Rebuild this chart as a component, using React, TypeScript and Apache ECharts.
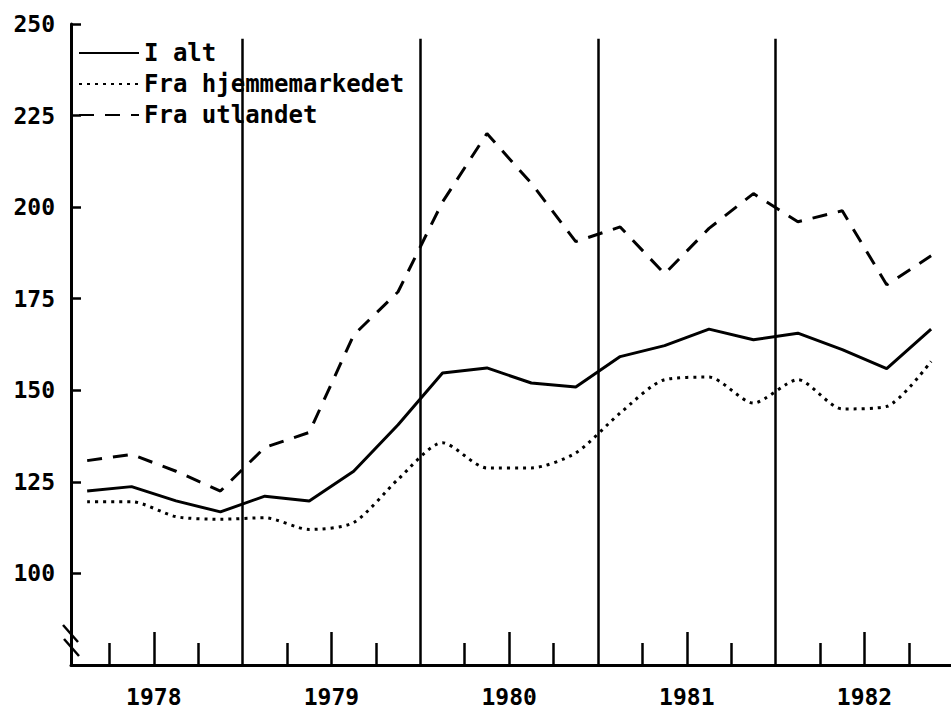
import React, { useEffect, useRef } from "react";
import * as echarts from "echarts";

const yearLabels = ["1978", "1979", "1980", "1981", "1982"];
const quarterX = [
  1978.125, 1978.375, 1978.625, 1978.875,
  1979.125, 1979.375, 1979.625, 1979.875,
  1980.125, 1980.375, 1980.625, 1980.875,
  1981.125, 1981.375, 1981.625, 1981.875,
  1982.125, 1982.375, 1982.625, 1982.875,
];
const iAlt = [
  122.5, 123.7, 119.8, 116.8,
  121.1, 119.8, 127.9, 140.6,
  154.7, 156.1, 152.0, 150.9,
  159.2, 162.2, 166.7, 163.8,
  165.6, 161.1, 155.9, 166.7,
];
const fraHjemme = [
  119.6, 119.6, 115.5, 114.8,
  115.2, 112.0, 113.9, 125.7,
  135.7, 128.8, 128.8, 132.9,
  143.8, 152.9, 153.6, 146.5,
  152.9, 144.9, 145.6, 157.9,
];
const fraUtland = [
  130.8, 132.5, 127.9, 122.5,
  134.4, 138.5, 165.1, 176.9,
  201.4, 220.1, 206.5, 190.6,
  194.6, 181.8, 194.2, 203.7,
  196.0, 199.0, 178.8, 186.7,
];
const quarterTicks = [
  1978.25, 1978.75, 1979.25, 1979.75, 1980.25, 1980.75,
  1981.25, 1981.75, 1982.25, 1982.75,
];
const midYearTicks = [1978.5, 1979.5, 1980.5, 1981.5, 1982.5];
const yearBoundaries = [1979, 1980, 1981, 1982];
const seriesNames = ["I alt", "Fra hjemmemarkedet", "Fra utlandet"];

const FONT = "DejaVu Sans Mono";
const X_MIN = 1978.034;
const X_MAX = 1982.987;
const Y_MIN = 75;
const Y_MAX = 250;
const LINE_TOP = 246;

export default function App() {
  const ref = useRef<HTMLDivElement>(null);

  useEffect(() => {
    document.body.style.margin = "0";
    if (!ref.current) return;
    const chart = echarts.init(ref.current, null, { renderer: "svg" });
    const black = "#000";
    const pairs = (vals: number[]) => quarterX.map((x, i) => [x, vals[i]]);

    chart.setOption({
      animation: false,
      backgroundColor: "#fff",
      grid: { left: 71, right: 0, top: 24, bottom: 44, containLabel: false },
      legend: {
        data: seriesNames,
        orient: "vertical",
        left: 78,
        top: 40,
        padding: 0,
        itemWidth: 60,
        itemHeight: 14,
        itemGap: 5,
        selectedMode: false,
        itemStyle: { opacity: 0, borderWidth: 0 },
        textStyle: {
          fontFamily: FONT,
          fontSize: 24,
          fontWeight: "bold",
          color: black,
          backgroundColor: "#fff",
          lineHeight: 26,
        },
      },
      xAxis: [
        {
          type: "value",
          min: X_MIN,
          max: X_MAX,
          axisLine: { show: true, onZero: false, lineStyle: { color: black, width: 3 } },
          axisTick: {
            show: true,
            inside: true,
            length: 22,
            customValues: quarterTicks,
            lineStyle: { color: black, width: 2.5 },
          },
          axisLabel: { show: false },
          splitLine: { show: false },
        },
        {
          type: "value",
          min: X_MIN,
          max: X_MAX,
          position: "bottom",
          axisLine: { show: false, onZero: false },
          axisTick: {
            show: true,
            inside: true,
            length: 33,
            customValues: midYearTicks,
            lineStyle: { color: black, width: 2.5 },
          },
          axisLabel: {
            show: true,
            customValues: midYearTicks,
            margin: 20,
            formatter: (v: number) => yearLabels[Math.floor(v) - 1978] ?? "",
            fontFamily: FONT,
            fontSize: 23,
            fontWeight: "bold",
            color: black,
          },
          splitLine: { show: false },
        },
      ],
      yAxis: {
        type: "value",
        min: Y_MIN,
        max: Y_MAX,
        interval: 25,
        axisLine: { show: true, onZero: false, lineStyle: { color: black, width: 3 } },
        axisTick: { show: true, inside: true, length: 10, lineStyle: { color: black, width: 2.5 } },
        axisLabel: {
          showMinLabel: false,
          margin: 16,
          fontFamily: FONT,
          fontSize: 23,
          fontWeight: "bold",
          color: black,
        },
        splitLine: { show: false },
      },
      series: [
        {
          name: seriesNames[0],
          type: "line",
          data: pairs(iAlt),
          symbol: "none",
          lineStyle: { color: black, width: 3, type: "solid" },
          itemStyle: { color: black },
          markLine: {
            silent: true,
            symbol: ["none", "none"],
            label: { show: false },
            lineStyle: { color: black, width: 2.5, type: "solid" },
            data: yearBoundaries.map((y) => [
              { coord: [y, Y_MIN] },
              { coord: [y, LINE_TOP] },
            ]),
          },
        },
        {
          name: seriesNames[1],
          type: "line",
          data: pairs(fraHjemme),
          symbol: "none",
          smooth: 0.25,
          lineStyle: { color: black, width: 3, type: [3, 5] },
          itemStyle: { color: black },
        },
        {
          name: seriesNames[2],
          type: "line",
          data: pairs(fraUtland),
          symbol: "none",
          lineStyle: { color: black, width: 3, type: [15, 11] },
          itemStyle: { color: black },
        },
      ],
      graphic: [
        {
          type: "line",
          shape: { x1: 63, y1: 625, x2: 78, y2: 642 },
          style: { stroke: black, lineWidth: 2.5 },
          z: 10,
        },
        {
          type: "line",
          shape: { x1: 64, y1: 639, x2: 79, y2: 656 },
          style: { stroke: black, lineWidth: 2.5 },
          z: 10,
        },
      ],
    });

    return () => chart.dispose();
  }, []);

  return (
    <div
      ref={ref}
      style={{ position: "absolute", left: 0, top: 0, width: 951, height: 709 }}
    />
  );
}
